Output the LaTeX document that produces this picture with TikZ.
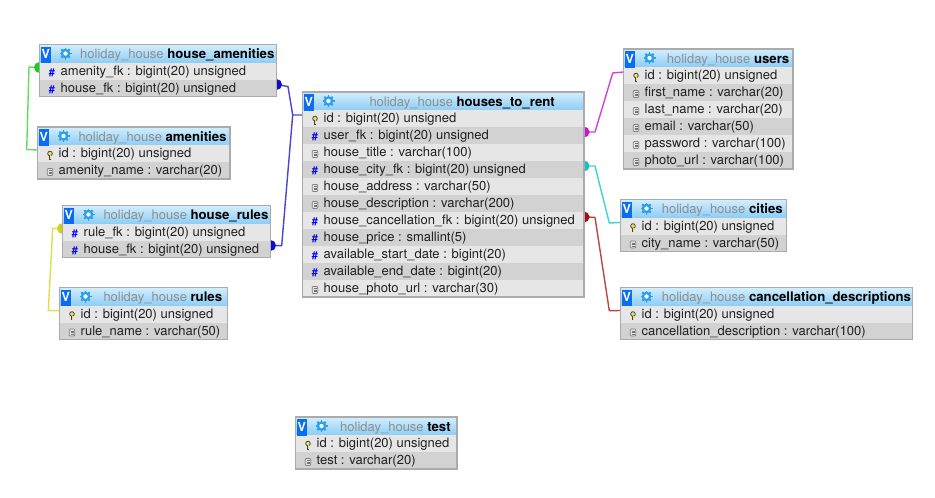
\documentclass[tikz,border=0pt]{standalone}
\usepackage{fontspec}
\setmainfont{TeX Gyre Heros}
\usetikzlibrary{positioning,backgrounds}

\definecolor{rowlight}{HTML}{E6E6E6}
\definecolor{rowdark}{HTML}{D2D2D2}
\definecolor{headtop}{HTML}{D3EEFC}
\definecolor{headbottom}{HTML}{8DCDF6}
\definecolor{tablegrey}{HTML}{ABABAB}
\definecolor{titlegrey}{HTML}{8E8E8E}
\definecolor{gearblue}{HTML}{2A9FEE}
\definecolor{vblue}{HTML}{0A6CF0}
\definecolor{keyyellow}{HTML}{F0E060}
\definecolor{fkgreen}{HTML}{5FDF5F}
\definecolor{fkblue}{HTML}{4646D2}
\definecolor{fkpink}{HTML}{D640DA}
\definecolor{fkcyan}{HTML}{3FD4D4}
\definecolor{fkred}{HTML}{B84848}
\definecolor{fkyellow}{HTML}{DEDE50}
\definecolor{dotgreen}{HTML}{20CC20}
\definecolor{dotblue}{HTML}{1010C0}
\definecolor{dotpink}{HTML}{C818C8}
\definecolor{dotcyan}{HTML}{18C0C0}
\definecolor{dotred}{HTML}{AA1010}
\definecolor{dotyellow}{HTML}{D0D020}

\tikzset{
  headband/.style={anchor=north west,inner sep=0,outer sep=0,minimum height=18pt,top color=headtop,bottom color=headbottom},
  rowband/.style={anchor=north west,inner sep=0,outer sep=0,minimum height=17pt},
  rowtext/.style={inner sep=0,text=black!88,font=\fontsize{13}{13}\selectfont,text height=11.5pt,text depth=3pt},
  titletext/.style={anchor=west,inner sep=0,font=\fontsize{13}{13}\selectfont,text height=12pt,text depth=1.5pt},
  tableframe/.style={draw=tablegrey,line width=1.1pt},
  fk/.style={draw=#1,line width=1.4pt,line join=round},
  fkdot/.style={fill=#1},
  iconf/.pic={\node[inner sep=0,text=blue,font=\fontsize{11}{11}\selectfont\bfseries] {\#};},
  icond/.pic={
    \draw[fill=white!90!black,draw=black!50,line width=.7pt,rounded corners=1pt] (-2.8,-3.5) rectangle (2.8,3.5);
    \foreach \l in {-1.7,0,1.7} \draw[black!55,line width=.6pt] (-1.5,\l) -- (1.5,\l);
  },
  iconk/.pic={
    \draw[black!75,line width=2.4pt] (0,0) -- (0,4.5);
    \draw[fill=keyyellow,draw=black!75,line width=.8pt] (0,-1.5) circle (2.3);
    \draw[keyyellow,line width=.9pt] (0,0) -- (0,4);
  },
  tablegear/.pic={
    \foreach \a in {0,45,...,315} \draw[gearblue,line width=1.8pt] (0,0) -- (\a:6);
    \fill[gearblue] (0,0) circle (4.8);
    \fill[white] (0,0) circle (2.2);
  }
}

% #1 name, #2 left, #3 top, #4 right, #5 title start, #6 table name, #7 rows
\newcommand{\dbtable}[7]{
  \pgfmathsetmacro{\tw}{#4-#2}
  \node[headband,minimum width=\tw pt] (#1-head) at (#2,#3) {};
  \foreach \ico/\txt [count=\n] in {#7} {
    \pgfmathsetmacro{\ry}{#3+18+17*(\n-1)}
    \ifodd\n\def\rowcol{rowlight}\else\def\rowcol{rowdark}\fi
    \node[rowband,fill=\rowcol,minimum width=\tw pt] (#1-\n) at (#2,\ry) {};
    \node[rowtext,right=21pt of #1-\n.west,anchor=west] (#1-\n-text) {\txt};
    \pic at ([xshift=12.5pt,yshift=-1.5pt]#1-\n.west) {icon\ico};
    \coordinate (#1-\n-l) at ([yshift=3.5pt]#1-\n.west);
    \coordinate (#1-\n-r) at ([yshift=3.5pt]#1-\n.east);
    \xdef\lastrow{\n}
  }
  \draw[tableframe] (#1-head.north west) rectangle (#1-\lastrow.south east);
  \fill[vblue] ([xshift=1pt,yshift=-2pt]#1-head.north west) rectangle ([xshift=11.5pt,yshift=-.5pt]#1-head.south west);
  \node[inner sep=0,text=white,font=\fontsize{12.5}{12.5}\selectfont\bfseries] (#1-v) at ([xshift=6.2pt,yshift=-.5pt]#1-head.west) {V};
  \pic at ([xshift=26pt]#1-head.west) {tablegear};
  \node[titletext] (#1-title) at (#5,#3+9) {\textcolor{titlegrey}{holiday\_house} \textbf{\fontsize{13.2}{13}\selectfont #6}};
}

\begin{document}
\begin{tikzpicture}[x=1pt,y=-1pt]
\useasboundingbox (0,0) rectangle (935,498);

\dbtable{amen}{39.5}{44.5}{276.5}{80}{house\_amenities}{f/amenity\_fk : bigint(20) unsigned,f/house\_fk : bigint(20) unsigned}
\dbtable{amenity}{37.5}{127}{230}{78.3}{amenities}{k/id : bigint(20) unsigned,d/amenity\_name : varchar(20)}
\dbtable{hrules}{62.5}{205.5}{270.5}{103.3}{house\_rules}{f/rule\_fk : bigint(20) unsigned,f/house\_fk : bigint(20) unsigned}
\dbtable{rule}{59.5}{287.5}{227.5}{103.3}{rules}{k/id : bigint(20) unsigned,d/rule\_name : varchar(50)}
\dbtable{rent}{302.5}{92}{584}{369.3}{houses\_to\_rent}{k/id : bigint(20) unsigned,f/user\_fk : bigint(20) unsigned,d/house\_title : varchar(100),f/house\_city\_fk : bigint(20) unsigned,d/house\_address : varchar(50),d/house\_description : varchar(200),f/house\_cancellation\_fk : bigint(20) unsigned,f/house\_price : smallint(5),f/available\_start\_date : bigint(20),f/available\_end\_date : bigint(20),d/house\_photo\_url : varchar(30)}
\dbtable{user}{623.5}{49}{793}{666.7}{users}{k/id : bigint(20) unsigned,d/first\_name : varchar(20),d/last\_name : varchar(20),d/email : varchar(50),d/password : varchar(100),d/photo\_url : varchar(100)}
\dbtable{city}{620.5}{199.5}{786.5}{661.7}{cities}{k/id : bigint(20) unsigned,d/city\_name : varchar(50)}
\dbtable{cancel}{620.5}{287.5}{912.5}{661.7}{cancellation\_descriptions}{k/id : bigint(20) unsigned,d/cancellation\_description : varchar(100)}
\dbtable{test}{295.5}{417}{457}{340}{test}{k/id : bigint(20) unsigned,d/test : varchar(20)}

\begin{scope}[on background layer]
\draw[fk=fkgreen] (amen-1-l) -- (29,67) -- (26.7,149.5) -- (amenity-1-l);
\fill[fkdot=dotgreen] (amen-1-l) circle (5.5);
\draw[fk=fkblue] (amen-2-r) -- (288,86.5) -- (292.7,115) -- (rent-1-l);
\draw[fk=fkblue] (hrules-2-r) -- (281.7,245.7) -- (292.7,115);
\fill[fkdot=dotblue] (amen-2-r) circle (5.5);
\fill[fkdot=dotblue] (hrules-2-r) circle (5.5);
\draw[fk=fkpink] (rent-2-r) -- (595,132) -- (612.7,73) -- (user-1-l);
\fill[fkdot=dotpink] (rent-2-r) circle (5.5);
\draw[fk=fkcyan] (rent-4-r) -- (595,166) -- (609.3,223) -- (city-1-l);
\fill[fkdot=dotcyan] (rent-4-r) circle (5.5);
\draw[fk=fkred] (rent-7-r) -- (595,217.3) -- (609.3,310.7) -- (cancel-1-l);
\fill[fkdot=dotred] (rent-7-r) circle (5.5);
\draw[fk=fkyellow] (hrules-1-l) -- (52.7,228.3) -- (48.3,310.7) -- (rule-1-l);
\fill[fkdot=dotyellow] (hrules-1-l) circle (5.5);
\end{scope}
\end{tikzpicture}
\end{document}
